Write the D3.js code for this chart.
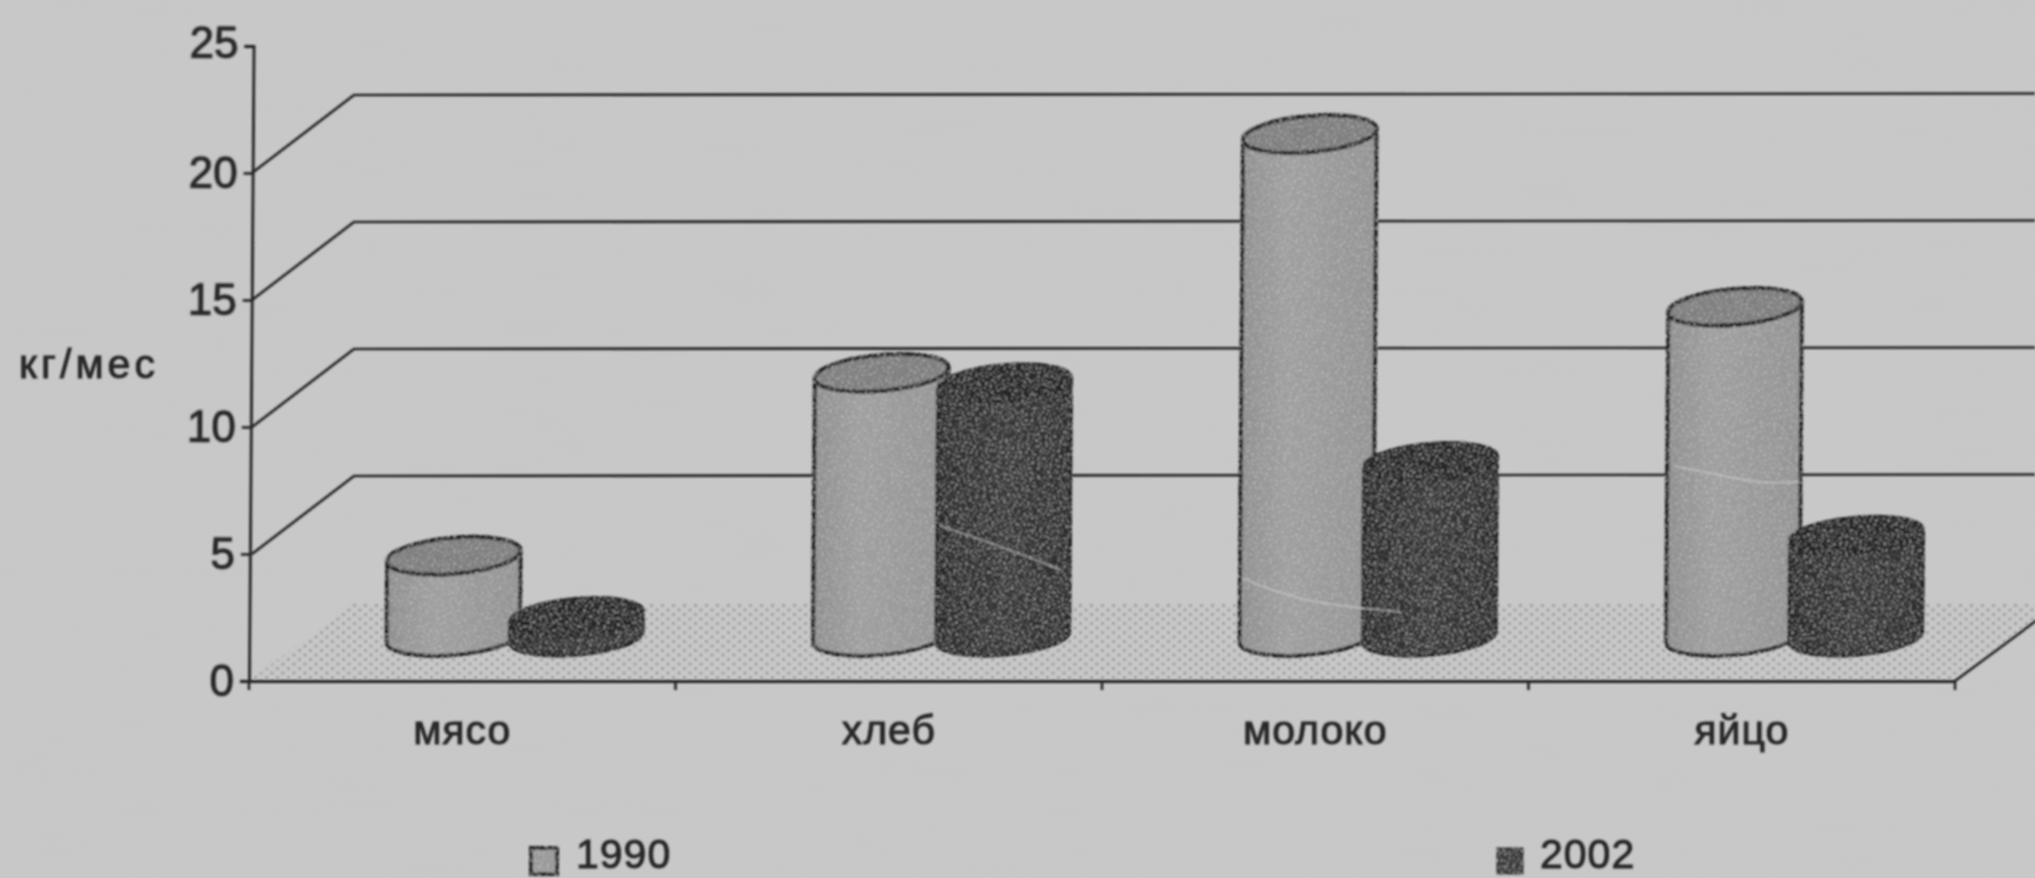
<!DOCTYPE html>
<html><head><meta charset="utf-8">
<script src="https://cdnjs.cloudflare.com/ajax/libs/d3/7.8.5/d3.min.js"></script>
<style>html,body{margin:0;padding:0;background:#c8c8c8;overflow:hidden}svg{display:block}
text{font-family:"Liberation Sans",Arial,sans-serif;fill:#262626;stroke:#262626;stroke-width:.9}</style></head>
<body><svg id="c" width="2035" height="878"></svg>
<script>
const categories = ["мясо","хлеб","молоко","яйцо"];
const values1990 = [3.2,10.4,19.8,13.0];
const values2002 = [0.8,10.0,6.9,4.0];
const seriesNames = ["1990","2002"];
const yTicks = [0,5,10,15,20,25];
const gridTicks = [5,10,15,20];
const yLabel = "кг/мес";

const W=2035,H=878;
const svg=d3.select("#c");
const defs=svg.append("defs");
defs.html(`
<filter id="paper" x="0" y="0" width="100%" height="100%">
 <feTurbulence type="fractalNoise" baseFrequency="0.01 0.05" numOctaves="2" seed="8"/>
 <feColorMatrix type="matrix" values="0 0 0 0 0.55  0 0 0 0 0.55  0 0 0 0 0.55  1 0 0 0 -0.42"/>
</filter>
<filter id="speck" x="-5%" y="-5%" width="110%" height="110%">
 <feTurbulence type="fractalNoise" baseFrequency="0.5" numOctaves="2" seed="3" result="n"/>
 <feColorMatrix in="n" type="matrix" values="0 0 0 0 .8  0 0 0 0 .8  0 0 0 0 .8  2.2 0 0 0 -1.2" result="w"/>
 <feComposite in="w" in2="SourceGraphic" operator="in" result="s"/>
 <feMerge><feMergeNode in="SourceGraphic"/><feMergeNode in="s"/></feMerge>
</filter>
<filter id="soft" x="-2%" y="-2%" width="104%" height="104%"><feGaussianBlur stdDeviation="1"/></filter>
<pattern id="dots" width="11" height="9" patternUnits="userSpaceOnUse">
 <circle cx="2.5" cy="2.5" r="1.6" fill="#9a9a9a"/><circle cx="8" cy="7" r="1.6" fill="#9a9a9a"/>
</pattern>
<linearGradient id="g1990"><stop offset="0" stop-color="#8f8f8f"/><stop offset=".35" stop-color="#9f9f9f"/><stop offset="1" stop-color="#939393"/></linearGradient>
<linearGradient id="g2002"><stop offset="0" stop-color="#2a2a2a"/><stop offset=".5" stop-color="#383838"/><stop offset="1" stop-color="#2c2c2c"/></linearGradient>`);

svg.append("rect").attr("width",W).attr("height",H).attr("fill","#c8c8c8");
svg.append("rect").attr("width",W).attr("height",H).attr("filter","url(#paper)").attr("opacity",.3);

const root=svg.append("g").attr("filter","url(#soft)");

const x=d3.scaleBand().domain(categories).range([249,1955]);
const y=d3.scaleLinear().domain([0,25]).range([681,46]);
const series=d3.scaleBand().domain(seriesNames).range([-123,123]);
const depthX=105, depthY=78;
const line="#222";

// floor
root.append("path").attr("fill","url(#dots)")
 .attr("d",d3.line()([[x.range()[0],y(0)],[x.range()[0]+depthX,y(0)-depthY],[x.range()[1]+depthX,y(0)-depthY],[x.range()[1],y(0)]]));

// wall gridlines
root.append("g").selectAll("path").data(gridTicks).join("path")
 .attr("fill","none").attr("stroke",line).attr("stroke-width",2.6)
 .attr("d",v=>d3.line()([[x.range()[0]+3,y(v)],[x.range()[0]+depthX,y(v)-depthY],[W,y(v)-depthY-1.5]]));
// right edge of the floor
root.append("path").attr("fill","none").attr("stroke",line).attr("stroke-width",2.6)
 .attr("d",d3.line()([[x.range()[1],y(0)],[x.range()[1]+depthX,y(0)-depthY]]));

// x axis
const xAxis=root.append("g").attr("transform",`translate(0,${y(0)})`)
 .call(d3.axisBottom(x).tickSize(0));
xAxis.select(".domain").attr("stroke",line).attr("stroke-width",2.8);
xAxis.selectAll("text").attr("font-size",41).attr("dy","0.3em").attr("y",51)
 .attr("letter-spacing",1).attr("stroke-width",1.7);
root.append("g").selectAll("line").data(d3.range(categories.length+1)).join("line")
 .attr("x1",i=>x.range()[0]+i*x.step()).attr("x2",i=>x.range()[0]+i*x.step())
 .attr("y1",y(0)).attr("y2",y(0)+9).attr("stroke",line).attr("stroke-width",2.6);

// y axis
const yAxis=root.append("g").attr("transform",`rotate(0.41 249 681) translate(249,0)`)
 .call(d3.axisLeft(y).tickValues(yTicks).tickSize(9).tickPadding(6).tickFormat(d3.format("d")));
yAxis.select(".domain").attr("stroke",line).attr("stroke-width",2.8);
yAxis.selectAll(".tick line").attr("stroke",line).attr("stroke-width",2.6);
yAxis.selectAll("text").attr("font-size",44).attr("dy","0.34em").attr("stroke-width",1.3);
yAxis.selectAll(".tick").filter(d=>d===25).select("text").attr("y",-3);

root.append("text").attr("x",89).attr("y",364).attr("dy","0.34em").attr("text-anchor","middle")
 .attr("font-size",41).attr("stroke-width",2).attr("letter-spacing",4).text(yLabel);

// cylinders
const rx=67, ry=18, tilt=-5, slant=0.007;
const baseY=637, baseShift=depthX/2;
const unit=y(0)-y(1);
const tr=tilt*Math.PI/180, dx=rx*Math.cos(tr), dy=rx*Math.sin(tr);
function geom(cat,name,v){
  const cx=x(cat)+x.bandwidth()/2+baseShift+series(name)+series.bandwidth()/2;
  const h=v*unit, tx=cx+h*slant, ty=baseY-h;
  return {cx,tx,ty};
}
function bodyPath(g){
  return `M${g.cx-dx},${baseY-dy}L${g.tx-dx},${g.ty-dy}A${rx},${ry} ${tilt} 0 0 ${g.tx+dx},${g.ty+dy}`+
         `L${g.cx+dx},${baseY+dy}A${rx},${ry} ${tilt} 0 1 ${g.cx-dx},${baseY-dy}Z`;
}
const rows=[
 {name:"1990",vals:values1990,fill:"url(#g1990)",top:"#7f7f7f",stroke:"#1e1e1e",sw:4},
 {name:"2002",vals:values2002,fill:"url(#g2002)",top:"#262626",stroke:"#222",sw:3.5}];
const marks=root.append("g").attr("filter","url(#speck)");
rows.forEach(r=>{
  marks.append("g").selectAll("path").data(categories).join("path")
   .attr("d",(c,i)=>bodyPath(geom(c,r.name,r.vals[i])))
   .attr("fill",r.fill).attr("stroke",r.stroke).attr("stroke-width",r.sw);
});
[rows[1],rows[0]].forEach(r=>{
  marks.append("g").selectAll("ellipse").data(categories).join("ellipse")
   .each(function(c,i){
     const g=geom(c,r.name,r.vals[i]);
     d3.select(this).attr("cx",g.tx).attr("cy",g.ty).attr("rx",rx).attr("ry",ry)
      .attr("transform",`rotate(${tilt} ${g.tx} ${g.ty})`);
   })
   .attr("fill",r.top).attr("stroke",r.stroke).attr("stroke-width",r.sw);
});

// scan scratches across the cylinders
const scratches=[
 [[941,526],[1000,546],[1061,570]],
 [[1675,466],[1715,474],[1760,484],[1800,482]],
 [[1242,578],[1300,602],[1400,612]]];
root.append("g").selectAll("path").data(scratches).join("path")
 .attr("fill","none").attr("stroke","#d0d0d0").attr("stroke-width",2).attr("opacity",.55)
 .attr("d",d3.line().curve(d3.curveBasis));

// legend
const legendX=d3.scaleOrdinal().domain(seriesNames).range([531,1497]);
const legend=root.append("g").selectAll("g").data(rows).join("g")
 .attr("transform",r=>`translate(${legendX(r.name)},848)`);
legend.append("rect").attr("width",26).attr("height",26).attr("filter","url(#speck)")
 .attr("fill",r=>r.name==="1990"?"#9a9a9a":"#3a3a3a").attr("stroke","#222").attr("stroke-width",r=>r.name==="1990"?4:1);
legend.append("text").attr("x",r=>r.name==="1990"?45:43).attr("y",6).attr("dy","0.34em")
 .attr("font-size",41).attr("letter-spacing",1).attr("stroke-width",.8).text(r=>r.name);
</script></body></html>
